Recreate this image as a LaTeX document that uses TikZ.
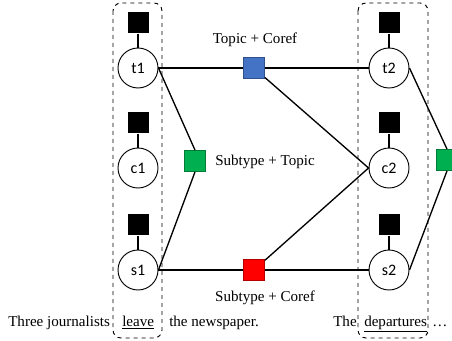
\documentclass[tikz,border=0pt]{standalone}
\usepackage{fontspec}
\setmainfont{Liberation Serif}
\newfontfamily\circfont{Carlito}
\usepackage{xcolor}
\usepackage{tikz}
\usetikzlibrary{positioning}

\definecolor{boxblue}{HTML}{4472C4}
\definecolor{boxgreen}{HTML}{00B050}
\definecolor{boxred}{HTML}{FF0000}

\begin{document}
\begin{tikzpicture}[
	x=0.75pt, y=-0.75pt,
	font=\fontsize{11.3}{13}\selectfont,
	mention/.style={circle,draw,line width=0.7pt,minimum size=30pt,inner sep=0pt,font=\circfont\fontsize{12}{14}\selectfont},
	unary/.style={rectangle,fill=black,minimum size=15.75pt,inner sep=0pt,above=10.5pt of #1},
	factor/.style={rectangle,draw=#1!70!black,fill=#1,line width=0.6pt,minimum size=15.75pt,inner sep=0pt},
	edge/.style={line width=1pt},
	group/.style={dashed,line width=0.7pt,rounded corners=6pt},
	word/.style={anchor=base west,inner sep=0pt}
]
	\useasboundingbox (0,0) rectangle (452,341);

	% first event: leave
	\node[mention] (t1) at (138,68) {t1};
	\node[mention] (c1) at (138,168) {c1};
	\node[mention] (s1) at (138,270) {s1};
	% second event: departures
	\node[mention] (t2) at (389,68) {t2};
	\node[mention] (c2) at (389,168) {c2};
	\node[mention] (s2) at (389,270) {s2};

	\node[unary=t1] (t1u) {};
	\node[unary=c1] (c1u) {};
	\node[unary=s1] (s1u) {};
	\node[unary=t2] (t2u) {};
	\node[unary=c2] (c2u) {};
	\node[unary=s2] (s2u) {};

	\node[factor=boxblue] (tc) at (254,68) {};
	\node[factor=boxgreen] (st1) at (195,161) {};
	\node[factor=boxred] (sc) at (254,270) {};
	\node[factor=boxgreen] (st2) at (447,160) {};

	\node (tclabel) at (255,40) {Topic + Coref};
	\node[anchor=west,inner sep=0pt] (stlabel) at (215,162) {Subtype + Topic};
	\node (sclabel) at (265,298) {Subtype + Coref};

	\draw[group] (113,3) rectangle (162,338);
	\draw[group] (358,3) rectangle (428,338);

	\foreach \m in {t1,c1,s1,t2,c2,s2}
		\draw[edge] (\m u) -- (\m);

	\draw[edge] (t1.east) -- (tc) -- (t2.west);
	\draw[edge] (tc) -- (c2.west);
	\draw[edge] (t1.east) -- (st1.north);
	\draw[edge] (st1.south) -- (s1.east);
	\draw[edge] (s1.east) -- (sc) -- (s2.west);
	\draw[edge] (sc) -- (c2.west);
	\draw[edge] (t2.east) -- (st2.north);
	\draw[edge] (st2.south) -- (s2.east);

	% sentence
	\node[word] (w1) at (8,326) {Three journalists};
	\node[word] (w2) at (122,326) {\underline{leave}};
	\node[word] (w3) at (169,326) {the newspaper.};
	\node[word] (w4) at (333,326) {The};
	\node[word] (w5) at (364,326) {\underline{departures}};
	\node[word] (w6) at (432,326) {…};
\end{tikzpicture}
\end{document}
